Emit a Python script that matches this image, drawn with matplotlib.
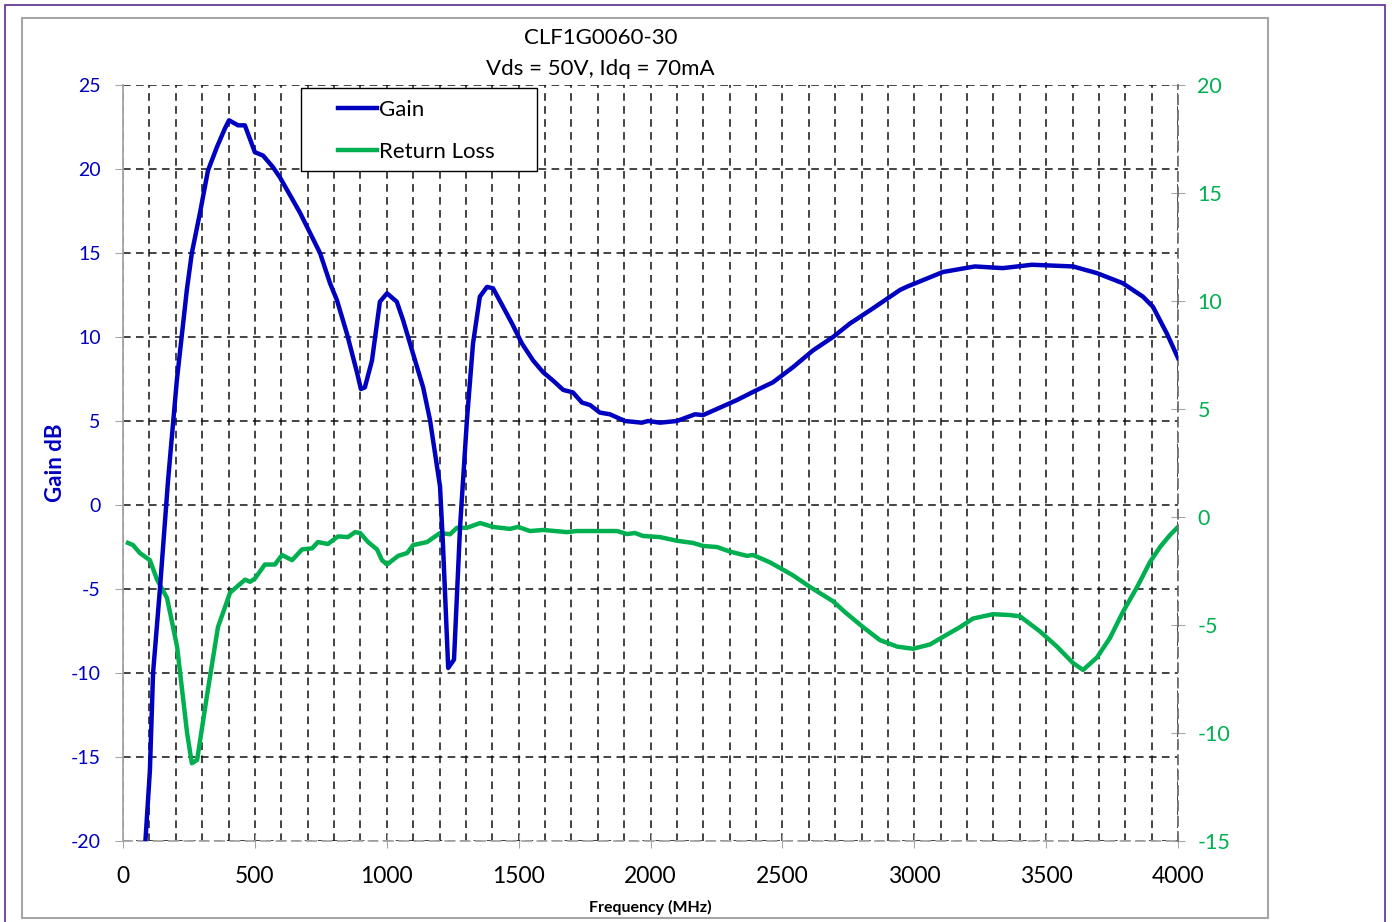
import matplotlib
matplotlib.use("Agg")
import matplotlib.pyplot as plt
from matplotlib.patches import Rectangle
from matplotlib.ticker import MultipleLocator

# gain curve (left axis)
gain_freq = [85, 102, 114, 140, 171, 204, 242, 261, 292, 322, 356, 386, 402, 436, 462,
             500, 531, 569, 595, 633, 671, 709, 747, 785, 811, 849, 887, 902, 917, 944,
             974, 1001, 1038, 1062, 1096, 1138, 1164, 1202, 1213, 1233, 1255, 1278, 1304,
             1327, 1353, 1380, 1403, 1441, 1475, 1513, 1555, 1593, 1631, 1669, 1706, 1740,
             1771, 1808, 1846, 1903, 1967, 1991, 2036, 2100, 2169, 2199, 2264, 2328, 2404,
             2464, 2540, 2616, 2692, 2756, 2843, 2946, 2973, 3109, 3230, 3336, 3446, 3602,
             3693, 3791, 3867, 3905, 3958, 4000]
gain_db = [-20, -15.8, -10, -5, 1.5, 7.4, 12.8, 15, 17.4, 19.9, 21.3, 22.4, 22.9, 22.6, 22.6,
           21.0, 20.8, 20.1, 19.5, 18.45, 17.4, 16.2, 15.0, 13.2, 12.2, 10.2, 7.9, 6.9, 7.0, 8.6,
           12.1, 12.6, 12.1, 11.0, 9.2, 7.0, 5.06, 1.1, -2.3, -9.7, -9.2, -1.3, 5.06,
           9.6, 12.4, 12.98, 12.9, 11.8, 10.8, 9.6, 8.6, 7.9, 7.4, 6.85, 6.7, 6.1,
           5.95, 5.5, 5.4, 5.0, 4.9, 5.0, 4.9, 5.0, 5.4, 5.35, 5.8, 6.25, 6.85,
           7.3, 8.2, 9.2, 10.0, 10.8, 11.7, 12.8, 13.0, 13.87, 14.2, 14.1, 14.3, 14.2,
           13.8, 13.2, 12.4, 11.8, 10.2, 8.75]

# return loss curve (right axis)
rl_freq = [19, 38, 64, 102, 129, 167, 205, 243, 261, 281, 318, 360, 406, 463, 482, 500,
           538, 576, 603, 641, 679, 717, 739, 777, 815, 853, 880, 899, 929, 963, 982, 1001,
           1043, 1077, 1100, 1153, 1202, 1240, 1266, 1304, 1354, 1403, 1467, 1498, 1543,
           1593, 1683, 1721, 1873, 1911, 1941, 1972, 2036, 2100, 2161, 2199, 2252, 2301,
           2366, 2389, 2453, 2491, 2540, 2605, 2692, 2737, 2806, 2870, 2935, 2995, 3060,
           3109, 3173, 3223, 3299, 3363, 3401, 3477, 3541, 3602, 3640, 3693, 3742, 3791,
           3845, 3894, 3932, 3970, 4000]
rl_db = [-1.2, -1.3, -1.67, -2.0, -2.9, -3.75, -6.0, -10.0, -11.4, -11.25, -8.3, -5.1, -3.5,
         -2.9, -3.0, -2.85, -2.2, -2.2, -1.76, -2.0, -1.5, -1.45, -1.16, -1.25, -0.9, -0.93,
         -0.7, -0.74, -1.16, -1.5, -2.0, -2.2, -1.8, -1.67, -1.3, -1.16, -0.74, -0.8, -0.5,
         -0.5, -0.28, -0.46, -0.55, -0.46, -0.65, -0.6, -0.7, -0.65, -0.65, -0.79, -0.74,
         -0.88, -0.93, -1.1, -1.2, -1.34, -1.39, -1.6, -1.8, -1.76, -2.1, -2.36, -2.7, -3.24,
         -3.9, -4.4, -5.1, -5.7, -6.0, -6.1, -5.9, -5.55, -5.1, -4.7, -4.5, -4.54, -4.6,
         -5.3, -6.0, -6.76, -7.08, -6.5, -5.6, -4.4, -3.24, -2.08, -1.39, -0.83, -0.46]

x_ticks = [0, 500, 1000, 1500, 2000, 2500, 3000, 3500, 4000]
left_ticks = [-20, -15, -10, -5, 0, 5, 10, 15, 20, 25]
right_ticks = [-15, -10, -5, 0, 5, 10, 15, 20]

BLUE = "#0000C0"
GREEN = "#00B050"
GRAY = "#A6A6A6"
plt.rcParams['font.family'] = ['Lato', 'DejaVu Sans']
plt.rcParams['axes.unicode_minus'] = False

fig = plt.figure(figsize=(13.92, 9.22), dpi=100)
W, H = 1392, 922

# outer frames
fig.patches.append(Rectangle((5 / W, -0.01), 1380 / W, 1 - 5 / H + 0.01, transform=fig.transFigure,
                             fill=False, edgecolor="#5B2C8C", lw=1.2))
fig.patches.append(Rectangle((22 / W, 1 - 918 / H), 1246 / W, 900 / H, transform=fig.transFigure,
                             fill=False, edgecolor=GRAY, lw=1.5))

ax = fig.add_axes([123 / W, 1 - 841 / H, 1055 / W, 756 / H])
ax.set_xlim(0, 4000)
ax.set_ylim(-20, 25)
ax.set_xticks(x_ticks)
ax.xaxis.set_minor_locator(MultipleLocator(100))
ax.set_yticks(left_ticks)
ax.grid(True, which="both", axis="x", color="#111111", lw=1.1, ls=(0, (5, 3.5)))
ax.grid(True, which="major", axis="y", color="#111111", lw=1.1, ls=(0, (5, 3.5)))
ax.set_axisbelow(True)
ax.tick_params(axis="x", which="minor", length=0)
ax.tick_params(axis="x", which="major", direction="inout", length=10, color=GRAY,
               labelsize=16.5, pad=13)
ax.tick_params(axis="y", direction="out", length=6, color=GRAY, labelsize=14,
               labelcolor=BLUE, pad=10)
ax.spines["top"].set_visible(False)
ax.spines["left"].set_color(GRAY)
ax.spines["left"].set_linewidth(1.3)
ax.spines["bottom"].set_color(GRAY)
ax.spines["bottom"].set_linestyle((0, (5, 3.5)))
ax.spines["bottom"].set_linewidth(1.3)
ax.spines["right"].set_visible(False)

ax2 = ax.twinx()
ax2.set_ylim(-15, 20)
ax2.set_yticks(right_ticks)
ax2.tick_params(axis="y", direction="inout", length=10, color=GRAY, labelsize=15.5,
                labelcolor=GREEN, pad=9)
for s in ["top", "left", "bottom"]:
    ax2.spines[s].set_visible(False)
ax2.spines["right"].set_color("#707070")
ax2.spines["right"].set_linestyle((0, (5, 3.5)))
ax2.spines["right"].set_linewidth(1.3)
rl_line, = ax2.plot(rl_freq, rl_db, color=GREEN, lw=3.2, solid_joinstyle="round")

# gain drawn on a twin of the left axis so that it sits above return loss
ax3 = ax.twinx()
ax3.set_ylim(ax.get_ylim())
ax3.axis("off")
gain_line, = ax3.plot(gain_freq, gain_db, color=BLUE, lw=3.2, solid_joinstyle="round")

# legend box drawn separately to get Excel's wide padding
fig.patches.append(Rectangle((301 / W, 1 - 171 / H), 236 / W, 83 / H, transform=fig.transFigure,
                             facecolor="white", edgecolor="black", lw=1.0, zorder=5))
leg = fig.legend([gain_line, rl_line], ["Gain", "Return Loss"], loc="center left",
                 bbox_to_anchor=(338 / W, 1 - 131 / H), fontsize=16, frameon=False,
                 handlelength=1.75, handletextpad=0.1, labelspacing=1.0,
                 borderpad=0, borderaxespad=0)
leg.set_zorder(6)

fig.text(601 / W, 1 - 38 / H, "CLF1G0060-30", ha="center", va="center", fontsize=16)
fig.text(600 / W, 1 - 69 / H, "Vds = 50V, Idq = 70mA", ha="center", va="center", fontsize=16)
fig.text(55 / W, 1 - 463 / H, "Gain dB", ha="center", va="center", rotation=90,
         fontsize=16, fontweight="bold", color=BLUE)
fig.text(650 / W, 1 - 907 / H, "Frequency (MHz)", ha="center", va="center",
         fontsize=11.5, fontweight="bold")

fig.savefig("out.png", dpi=100)
